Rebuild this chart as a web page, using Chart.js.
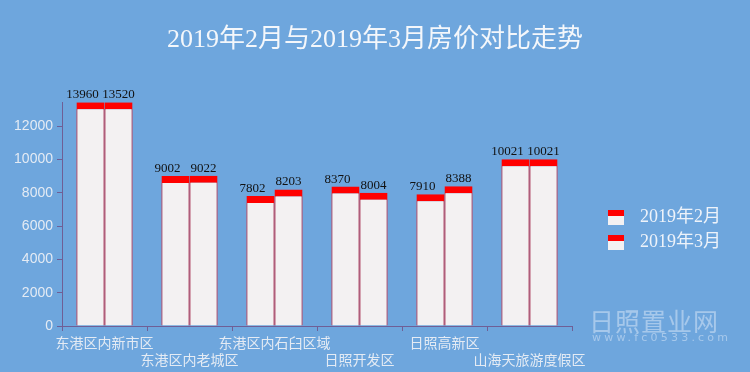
<!DOCTYPE html>
<html>
<head>
<meta charset="utf-8">
<script src="https://cdn.jsdelivr.net/npm/chart.js@4/dist/chart.umd.min.js"></script>
<style>
html,body{margin:0;padding:0;background:#6ea6dd;}
#wrap{position:relative;width:750px;height:372px;overflow:hidden;background:#6ea6dd;}
canvas{display:block;}
.wm1{position:absolute;left:589px;top:302px;font-family:'Noto Sans CJK SC',sans-serif;font-size:25px;letter-spacing:1px;color:rgba(235,242,252,0.45);white-space:nowrap;}
.wm2{position:absolute;left:592px;top:331px;font-family:'DejaVu Sans',sans-serif;font-size:11px;letter-spacing:3.2px;color:rgba(235,242,252,0.45);white-space:nowrap;}
</style>
</head>
<body>
<div id="wrap">
<canvas id="c" width="750" height="372"></canvas>
<div class="wm1">日照置业网</div>
<div class="wm2">www.fc0533.com</div>
</div>
<script>
const titleText = '2019年2月与2019年3月房价对比走势';
const categories = ['东港区内新市区', '东港区内老城区', '东港区内石臼区域', '日照开发区', '日照高新区', '山海天旅游度假区'];
const seriesNames = ['2019年2月', '2019年3月'];
const febValues = [13960, 9002, 7802, 8370, 7910, 10021];
const marValues = [13520, 9022, 8203, 8004, 8388, 10021];
const yTickValues = [0, 2000, 4000, 6000, 8000, 10000, 12000];
const Y_MAX = 13440;

// Bars taller than the axis are clipped at the top of the plot in the reference
const shown = arr => arr.map(v => Math.min(v, Y_MAX));

// staggered x labels (odd ones on a second row)
const xLabels = categories.map((c, i) => i % 2 ? ['', c] : c);

function legendSwatch() {
  const cv = document.createElement('canvas');
  cv.width = 16; cv.height = 15;
  const g = cv.getContext('2d');
  g.fillStyle = '#f3f1f2'; g.fillRect(0, 0, 16, 15);
  g.fillStyle = '#ff0000'; g.fillRect(0, 0, 16, 6);
  return cv;
}
const swatch = legendSwatch();

const valueLabels = {
  id: 'valueLabels',
  afterDatasetsDraw(chart) {
    const ctx = chart.ctx;
    ctx.save();
    ctx.font = '13px "Liberation Serif", "Noto Sans CJK SC", serif';
    ctx.fillStyle = '#111111';
    ctx.textAlign = 'center';
    ctx.textBaseline = 'alphabetic';
    chart.data.datasets.forEach((ds, di) => {
      const meta = chart.getDatasetMeta(di);
      meta.data.forEach((el, i) => {
        const v = ds.rawValues[i];
        ctx.fillText(String(v), el.x + (ds.labelShift || 0), el.y - 4);
      });
    });
    ctx.restore();
  }
};

const legendPlace = {
  id: 'legendPlace',
  afterInit(chart) {
    const lg = chart.legend;
    if (lg && !lg._patched) {
      const f = lg.fit.bind(lg);
      lg.fit = function () { f(); this.width = 178; };
      const d = lg.draw.bind(lg);
      lg.draw = function () {
        this.ctx.save();
        this.ctx.translate(22, 44);
        d();
        this.ctx.restore();
      };
      lg._patched = true;
    }
  }
};

const barStyle = {
  backgroundColor: '#f3f1f2',
  borderColor: '#ff0000',
  borderWidth: { top: 7, left: 1, right: 1, bottom: 0 },
  borderSkipped: false,
  barPercentage: 1.0,
  categoryPercentage: 0.66
};

new Chart(document.getElementById('c'), {
  type: 'bar',
  data: {
    labels: xLabels,
    datasets: [
      Object.assign({ label: seriesNames[0], data: shown(febValues), rawValues: febValues, labelShift: -8 }, barStyle),
      Object.assign({ label: seriesNames[1], data: shown(marValues), rawValues: marValues, labelShift: 0 }, barStyle)
    ]
  },
  options: {
    responsive: false,
    animation: false,
    devicePixelRatio: 1,
    layout: { padding: 0 },
    plugins: {
      tooltip: { enabled: false },
      title: {
        display: true,
        text: titleText,
        color: '#f4f7fb',
        font: { family: '"Liberation Serif", "Noto Sans CJK SC", serif', size: 26, weight: 'normal' },
        padding: { top: 25, bottom: 46 }
      },
      legend: {
        position: 'right',
        align: 'center',
        labels: {
          usePointStyle: true,
          pointStyleWidth: 30,
          boxHeight: 15,
          padding: 7,
          color: '#eef3fa',
          font: { family: '"Liberation Serif", "Noto Sans CJK SC", serif', size: 18 },
          generateLabels(chart) {
            return chart.data.datasets.map((ds, i) => ({
              text: ds.label,
              pointStyle: swatch,
              fillStyle: '#f3f1f2',
              strokeStyle: '#ff0000',
              lineWidth: 0,
              fontColor: '#eef3fa',
              hidden: false,
              datasetIndex: i
            }));
          }
        }
      }
    },
    scales: {
      x: {
        afterFit(s) { s.height = 46; },
        grid: { display: true, drawOnChartArea: false, drawTicks: true, tickLength: 5, color: '#6f5f96', offset: true },
        border: { display: true, color: '#6f5f96', width: 1 },
        ticks: {
          autoSkip: false,
          maxRotation: 0,
          minRotation: 0,
          padding: 3,
          color: '#e4ebf4',
          font: { family: '"Noto Sans CJK SC", sans-serif', size: 14, lineHeight: 1.2 }
        }
      },
      y: {
        min: 0,
        max: Y_MAX,
        afterFit(s) { s.width = 62; },
        afterBuildTicks(s) { s.ticks = yTickValues.map(v => ({ value: v })); },
        grid: { display: true, drawOnChartArea: false, drawTicks: true, tickLength: 5, color: '#6f5f96' },
        border: { display: true, color: '#6f5f96', width: 1 },
        ticks: {
          stepSize: 2000,
          includeBounds: false,
          padding: 4,
          color: '#e4ebf4',
          font: { family: '"Liberation Sans", Arial, sans-serif', size: 14 },
          callback: v => String(v)
        }
      }
    }
  },
  plugins: [valueLabels, legendPlace]
});
</script>
</body>
</html>
